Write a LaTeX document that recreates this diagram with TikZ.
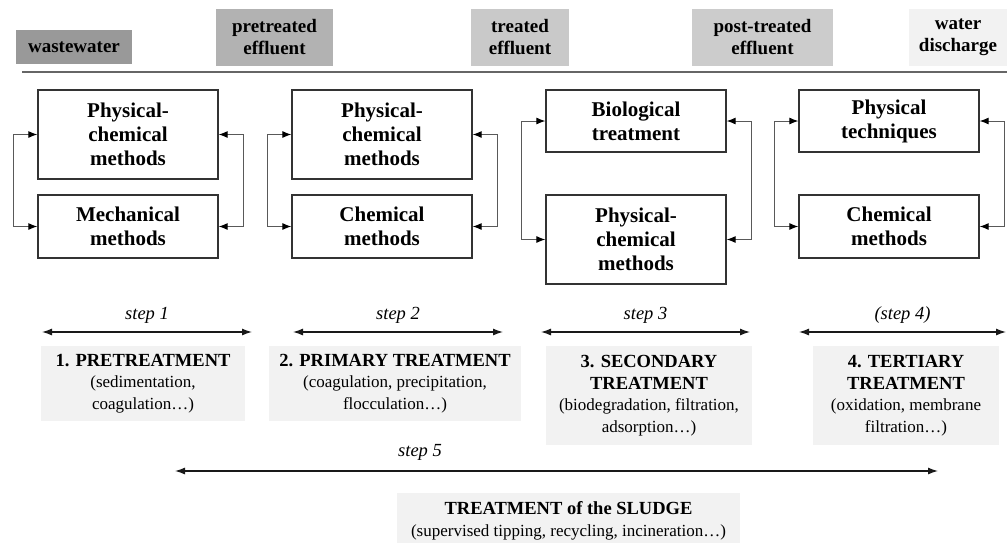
\documentclass[tikz,border=0pt]{standalone}
\usepackage{fontspec}
\setmainfont{Liberation Serif}
\usetikzlibrary{positioning,arrows.meta}

\newcommand\headline[1]{{\fontsize{18.5}{22}\selectfont\bfseries #1}}

\tikzset{
  flow/.style={inner sep=0pt, minimum height=57pt, align=center, font=\fontsize{19}{22}\selectfont\bfseries},
  method/.style={draw=black!80, line width=1.3pt, minimum width=180pt, align=center, font=\fontsize{21}{24}\selectfont\bfseries},
  stage/.style={fill=black!5, inner sep=0pt, minimum height=99pt, align=center, font=\fontsize{17}{21.5}\selectfont},
  loop/.style={draw=black!65, line width=1pt, {Latex[length=9pt,width=7pt,black]}-{Latex[length=9pt,width=7pt,black]}},
  span/.style={draw=black!90, line width=1.2pt, {Latex[length=10pt,width=7pt]}-{Latex[length=10pt,width=7pt]}},
  steplabel/.style={font=\fontsize{18.5}{22}\selectfont\itshape}
}

\begin{document}
\begin{tikzpicture}[x=1pt,y=-1pt]
\useasboundingbox (0,0) rectangle (1007,542);

% effluents
\node[flow, fill=black!40, minimum width=116pt, minimum height=34pt] (ww) at (74,47) {wastewater};
\node[flow, fill=black!30, minimum width=117pt] (pre) at (274.5,37.5) {pretreated\\effluent};
\node[flow, fill=black!21, minimum width=98pt] (tre) at (520,37.5) {treated\\effluent};
\node[flow, fill=black!20, minimum width=141pt] (post) at (762.5,37.5) {post-treated\\effluent};
\node[flow, fill=black!5, minimum width=98pt] (dis) at (958,37.5) {water\\discharge};
\coordinate (rulel) at (22,72);
\coordinate (ruler) at (1007,72);
\draw[black!60, line width=1.2pt] (rulel) -- (ruler);

% methods
\node[method, minimum height=89pt] (pc1) at (128,134.5) {Physical-\\chemical\\methods};
\node[method, minimum height=63pt] (me1) at (128,226.5) {Mechanical\\methods};
\node[method, minimum height=89pt] (pc2) at (382,134.5) {Physical-\\chemical\\methods};
\node[method, minimum height=63pt] (ch2) at (382,226.5) {Chemical\\methods};
\node[method, minimum height=62pt] (bio3) at (636,121) {Biological\\treatment};
\node[method, minimum height=89pt] (pc3) at (636,239.5) {Physical-\\chemical\\methods};
\node[method, minimum height=62pt] (ph4) at (889,121) {Physical\\techniques};
\node[method, minimum height=63pt] (ch4) at (889,226.5) {Chemical\\methods};

\foreach \a/\b in {pc1/me1, pc2/ch2, bio3/pc3, ph4/ch4} {
  \draw[loop] (\a.west) -- ++(-24,0) |- (\b.west);
  \draw[loop] (\a.east) -- ++(25,0) |- (\b.east);
}

% steps
\coordinate (s1l) at (42,332);  \coordinate (s1r) at (252,332);
\coordinate (s2l) at (293,332); \coordinate (s2r) at (503,332);
\coordinate (s3l) at (541,332); \coordinate (s3r) at (750,332);
\coordinate (s4l) at (799,332); \coordinate (s4r) at (1006,332);
\draw[span] (s1l) -- (s1r) node[midway, above=5pt, steplabel] (lab1) {step 1};
\draw[span] (s2l) -- (s2r) node[midway, above=5pt, steplabel] (lab2) {step 2};
\draw[span] (s3l) -- (s3r) node[midway, above=5pt, steplabel] (lab3) {step 3};
\draw[span] (s4l) -- (s4r) node[midway, above=5pt, steplabel] (lab4) {(step 4)};

\node[stage, minimum width=204pt, minimum height=75pt] (st1) at (143,383.5)
  {\headline{1. PRETREATMENT}\\(sedimentation,\\coagulation…)};
\node[stage, minimum width=252pt, minimum height=75pt] (st2) at (395,383.5)
  {\headline{2. PRIMARY TREATMENT}\\(coagulation, precipitation,\\flocculation…)};
\node[stage, minimum width=206pt] (st3) at (649,395.5)
  {\headline{3. SECONDARY}\\\headline{TREATMENT}\\(biodegradation, filtration,\\adsorption…)};
\node[stage, minimum width=186pt] (st4) at (906,395.5)
  {\headline{4. TERTIARY}\\\headline{TREATMENT}\\(oxidation, membrane\\filtration…)};

% sludge
\coordinate (s5l) at (175,471);
\coordinate (s5r) at (938,471);
\draw[span] (s5l) -- (s5r);
\node[steplabel] (lab5) at (420,452) {step 5};
\node[stage, minimum width=343pt, minimum height=56pt] (sludge) at (568.5,521)
  {\headline{TREATMENT of the SLUDGE}\\(supervised tipping, recycling, incineration…)};

\end{tikzpicture}
\end{document}
